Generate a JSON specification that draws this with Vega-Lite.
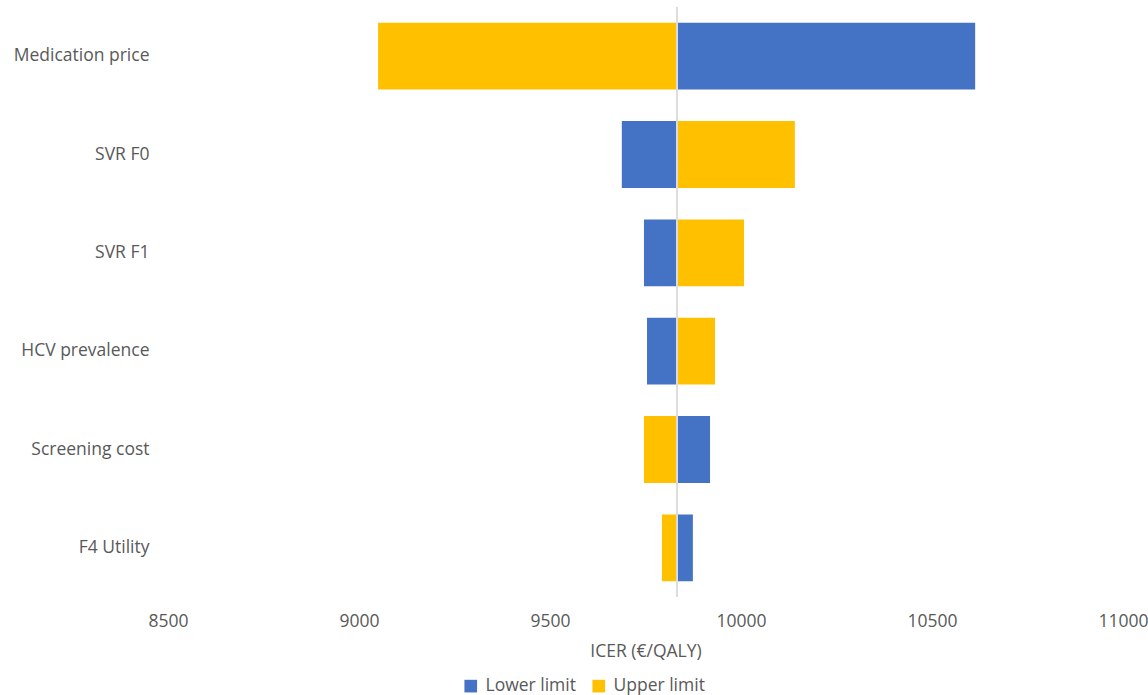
{
  "$schema": "https://vega.github.io/schema/vega-lite/v6.json",
  "width": 955,
  "height": 590,
  "autosize": {"type": "none"},
  "padding": {"left": 168, "top": 7, "right": 25, "bottom": 98},
  "background": "white",
  "config": {
    "view": {"stroke": null},
    "font": "Open Sans"
  },
  "data": {
    "values": [
      {"parameter": "Medication price", "limit": "Lower limit", "icer": 10613},
      {"parameter": "Medication price", "limit": "Upper limit", "icer": 9050},
      {"parameter": "SVR F0", "limit": "Lower limit", "icer": 9688},
      {"parameter": "SVR F0", "limit": "Upper limit", "icer": 10141},
      {"parameter": "SVR F1", "limit": "Lower limit", "icer": 9746},
      {"parameter": "SVR F1", "limit": "Upper limit", "icer": 10008},
      {"parameter": "HCV prevalence", "limit": "Lower limit", "icer": 9754},
      {"parameter": "HCV prevalence", "limit": "Upper limit", "icer": 9932},
      {"parameter": "Screening cost", "limit": "Lower limit", "icer": 9919},
      {"parameter": "Screening cost", "limit": "Upper limit", "icer": 9746},
      {"parameter": "F4 Utility", "limit": "Lower limit", "icer": 9874},
      {"parameter": "F4 Utility", "limit": "Upper limit", "icer": 9793}
    ]
  },
  "layer": [
    {
      "mark": {"type": "bar"},
      "encoding": {
        "y": {
          "field": "parameter",
          "type": "nominal",
          "sort": null,
          "scale": {"paddingInner": 0.32, "paddingOuter": 0.16},
          "axis": {
            "title": null,
            "domain": false,
            "ticks": false,
            "labelPadding": 19,
            "labelFontSize": 17.5,
            "labelColor": "#595959",
            "labelFont": "Open Sans"
          }
        },
        "x": {
          "field": "icer",
          "type": "quantitative",
          "scale": {"domain": [8500, 11000], "nice": false, "zero": false},
          "axis": {
            "title": "ICER (€/QALY)",
            "values": [8500, 9000, 9500, 10000, 10500, 11000],
            "format": "d",
            "grid": false,
            "domain": false,
            "ticks": false,
            "labelPadding": 15,
            "labelFontSize": 17.5,
            "labelColor": "#595959",
            "labelFont": "Open Sans",
            "labelFlush": false,
            "labelOverlap": false,
            "titleFontSize": 17.5,
            "titleFontWeight": "normal",
            "titleColor": "#595959",
            "titleFont": "Open Sans",
            "titlePadding": 13
          }
        },
        "x2": {"datum": 9833},
        "color": {
          "field": "limit",
          "type": "nominal",
          "scale": {"domain": ["Lower limit", "Upper limit"], "range": ["#4472C4", "#FFC000"]},
          "legend": {
            "title": null,
            "orient": "none",
            "direction": "horizontal",
            "legendX": 294,
            "legendY": 670,
            "symbolType": "square",
            "symbolSize": 160,
            "symbolStrokeWidth": 0,
            "symbolOpacity": 1,
            "labelFontSize": 17.5,
            "labelColor": "#595959",
            "labelFont": "Open Sans",
            "labelOffset": 6,
            "columnPadding": 14
          }
        }
      }
    },
    {
      "mark": {"type": "rule", "color": "#DDDDDD", "strokeWidth": 1},
      "encoding": {"x": {"datum": 9833}}
    }
  ]
}
